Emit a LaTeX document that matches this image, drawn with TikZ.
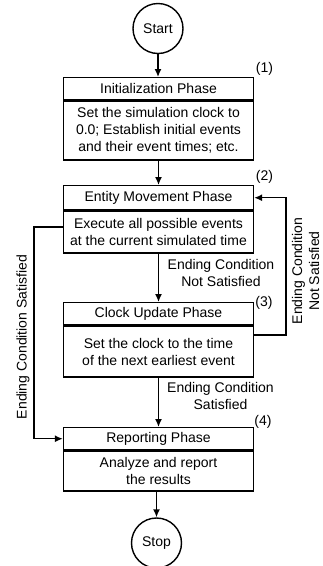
\documentclass[tikz,border=0pt]{standalone}
\usepackage{fontspec}
\setmainfont{Liberation Sans}
\usetikzlibrary{arrows.meta}

\tikzset{
  flow/.style={line width=1.4pt},
  arr/.style={flow, -{Latex[length=8pt,width=7pt]}},
  term/.style={circle, draw, line width=1.4pt, minimum size=50pt, inner sep=0pt},
  phase/.style={rectangle, draw, line width=1.4pt, minimum width=190pt, inner sep=0pt, align=center},
  tag/.style={inner sep=0pt},
  cond/.style={inner sep=0pt, align=center}
}

\begin{document}
\begin{tikzpicture}[x=1pt, y=-1pt, font=\fontsize{14}{17}\selectfont]
  \useasboundingbox[fill=white] (0,0) rectangle (323,566);

  % terminals
  \node[term] (start) at (158,28.5) {Start};
  \node[term] (stop)  at (156.5,543) {Stop};

  % (1) initialization
  \node[phase, minimum height=22pt, anchor=north] (h1) at (158.5,77) {Initialization Phase};
  \node[phase, minimum height=59pt, anchor=north] (b1) at (h1.south)
    {Set the simulation clock to\\0.0; Establish initial events\\and their event times; etc.};

  % (2) entity movement
  \node[phase, minimum height=24pt, anchor=north] (h2) at (158.5,185) {Entity Movement Phase};
  \node[phase, minimum height=42pt, anchor=north] (b2) at (h2.south)
    {Execute all possible events\\at the current simulated time};

  % (3) clock update
  \node[phase, minimum height=22pt, anchor=north] (h3) at (158.5,302) {Clock Update Phase};
  \node[phase, minimum height=51pt, anchor=north] (b3) at (h3.south)
    {Set the clock to the time\\of the next earliest event};

  % (4) reporting
  \node[phase, minimum height=22pt, anchor=north] (h4) at (158.5,427) {Reporting Phase};
  \node[phase, minimum height=40pt, anchor=north] (b4) at (h4.south)
    {Analyze and report\\the results};

  % phase numbers
  \node[tag] (n1) at (264.5,69) {(1)};
  \node[tag] (n2) at (264.5,177) {(2)};
  \node[tag] (n3) at (264,303) {(3)};
  \node[tag] (n4) at (263,422) {(4)};

  % main flow
  \draw[arr] (start) -- (h1.north -| start.south);
  \draw[arr] (b1) -- (h2);
  \draw[arr] (b2) -- (h3);
  \draw[arr] (b3) -- (h4);
  \draw[arr] (b4.south -| stop.north) -- (stop);

  % loop back to entity movement
  \coordinate (loopR) at (286,335);
  \draw[arr] (b3.east |- loopR) -- (loopR) |- (h2.east);

  % exit straight to reporting
  \coordinate (loopL) at (34,227);
  \draw[arr] (b2.west |- loopL) -- (loopL) |- (h4.west);

  % condition labels
  \node[cond] (c1) at (221,272.5) {Ending Condition\\Not Satisfied};
  \node[cond] (c2) at (220.5,395.5) {Ending Condition\\Satisfied};
  \node[cond, rotate=90] (c3) at (305.5,271) {Ending Condition\\Not Satisfied};
  \node[cond, rotate=90] (c4) at (23,337) {Ending Condition Satisfied};
\end{tikzpicture}
\end{document}
